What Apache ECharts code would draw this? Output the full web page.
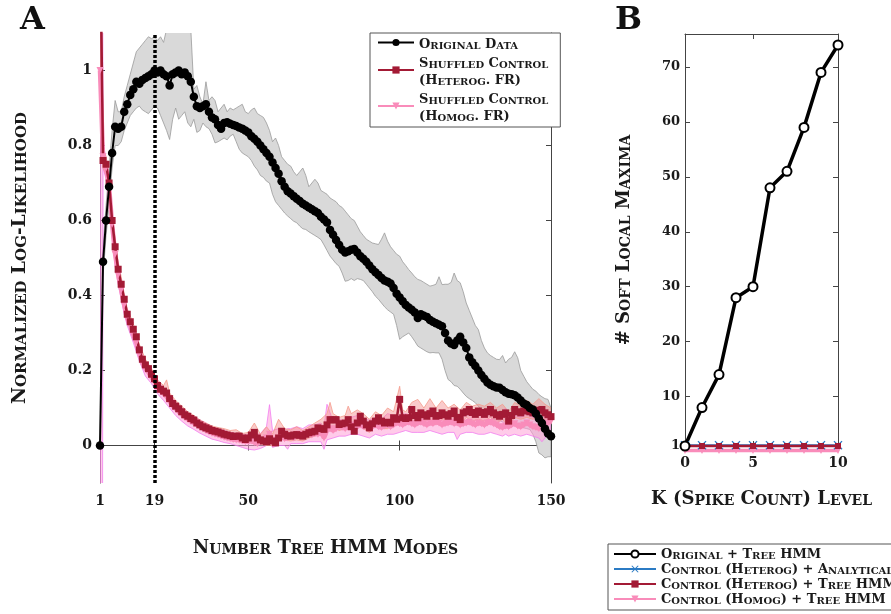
<!DOCTYPE html>
<html><head><meta charset="utf-8">
<script src="https://cdn.jsdelivr.net/npm/echarts@6/dist/echarts.min.js"></script>
<style>html,body{margin:0;padding:0;background:#fff}#c{width:891px;height:614px}</style>
</head><body><div id="c"></div>
<script>
// ---------- Panel A data ----------
const modeCounts = Array.from({length: 150}, (_, i) => i + 1);
const modeTickValues = [1, 19, 50, 100, 150];
const llTickValues = [0, 0.2, 0.4, 0.6, 0.8, 1];
const bestModeCount = 19;

const originalData = [
0.00,0.49,0.60,0.69,0.78,0.85,0.845,0.85,0.89,0.91,
0.935,0.95,0.97,0.965,0.975,0.98,0.985,0.99,1.00,0.995,
1.00,0.99,0.985,0.96,0.99,0.995,1.00,0.99,0.995,0.985,
0.97,0.93,0.905,0.90,0.905,0.91,0.89,0.875,0.87,0.855,
0.845,0.86,0.862,0.858,0.855,0.852,0.848,0.845,0.84,0.835,
0.825,0.818,0.81,0.80,0.79,0.78,0.77,0.755,0.74,0.725,
0.705,0.69,0.678,0.672,0.665,0.658,0.652,0.645,0.64,0.635,
0.63,0.625,0.62,0.61,0.603,0.595,0.575,0.562,0.548,0.535,
0.522,0.515,0.518,0.522,0.524,0.515,0.505,0.498,0.49,0.48,
0.47,0.462,0.455,0.447,0.44,0.437,0.432,0.42,0.405,0.395,
0.385,0.375,0.368,0.362,0.355,0.34,0.35,0.346,0.343,0.335,
0.33,0.326,0.322,0.318,0.30,0.28,0.272,0.268,0.28,0.29,
0.275,0.26,0.235,0.222,0.212,0.2,0.188,0.178,0.168,0.162,
0.158,0.155,0.154,0.148,0.142,0.138,0.137,0.134,0.128,0.12,
0.112,0.108,0.1,0.096,0.085,0.072,0.06,0.045,0.032,0.025];

const originalUpper = [
0.02,0.53,0.64,0.74,0.84,0.92,0.89,0.89,0.93,0.96,
0.99,1.02,1.05,1.06,1.07,1.08,1.09,1.085,1.09,1.08,
1.09,1.075,1.11,1.15,1.14,1.13,1.15,1.14,1.13,1.12,
1.11,0.95,0.96,0.93,0.91,0.97,0.92,0.93,0.92,0.89,
0.90,0.91,0.89,0.90,0.895,0.90,0.905,0.91,0.89,0.885,
0.895,0.90,0.885,0.88,0.875,0.86,0.84,0.81,0.82,0.80,
0.77,0.76,0.75,0.745,0.73,0.72,0.73,0.74,0.72,0.69,
0.70,0.71,0.70,0.68,0.675,0.67,0.66,0.655,0.65,0.64,
0.635,0.625,0.615,0.605,0.60,0.585,0.57,0.56,0.55,0.545,
0.54,0.538,0.536,0.55,0.567,0.545,0.53,0.52,0.51,0.505,
0.49,0.48,0.469,0.46,0.45,0.443,0.44,0.435,0.43,0.425,
0.427,0.43,0.45,0.429,0.43,0.43,0.435,0.46,0.44,0.434,
0.41,0.38,0.36,0.34,0.32,0.309,0.28,0.26,0.247,0.24,
0.235,0.23,0.229,0.24,0.22,0.23,0.235,0.25,0.234,0.2,
0.185,0.17,0.16,0.15,0.145,0.136,0.13,0.125,0.123,0.10];

const originalLower = [
-0.01,0.45,0.56,0.64,0.74,0.80,0.80,0.81,0.84,0.86,
0.88,0.89,0.90,0.905,0.895,0.89,0.885,0.895,0.905,0.90,
0.88,0.86,0.84,0.816,0.87,0.90,0.87,0.88,0.89,0.86,
0.85,0.87,0.835,0.84,0.86,0.85,0.845,0.83,0.807,0.81,
0.815,0.82,0.815,0.825,0.83,0.81,0.79,0.78,0.775,0.77,
0.76,0.745,0.735,0.72,0.715,0.705,0.70,0.67,0.65,0.64,
0.63,0.62,0.612,0.605,0.598,0.594,0.585,0.578,0.576,0.57,
0.565,0.56,0.555,0.549,0.535,0.52,0.505,0.495,0.485,0.478,
0.46,0.438,0.44,0.445,0.44,0.445,0.443,0.44,0.43,0.42,
0.41,0.398,0.39,0.38,0.37,0.362,0.356,0.35,0.32,0.283,
0.29,0.295,0.30,0.29,0.278,0.265,0.26,0.255,0.25,0.247,
0.248,0.247,0.247,0.23,0.2,0.176,0.17,0.16,0.158,0.15,
0.14,0.131,0.125,0.12,0.114,0.105,0.095,0.087,0.08,0.075,
0.07,0.069,0.066,0.063,0.061,0.06,0.058,0.055,0.051,0.049,
0.047,0.045,0.043,0.03,0.01,-0.02,-0.025,-0.033,-0.03,-0.03];

const heterogData = [
1.4,0.76,0.75,0.70,0.60,0.53,0.47,0.43,0.39,0.35,
0.33,0.31,0.29,0.255,0.23,0.215,0.205,0.19,0.178,0.16,
0.15,0.145,0.14,0.125,0.112,0.105,0.098,0.09,0.082,0.078,
0.072,0.068,0.06,0.055,0.05,0.047,0.044,0.04,0.038,0.036,
0.033,0.03,0.028,0.026,0.024,0.025,0.025,0.02,0.016,0.02,
0.028,0.035,0.02,0.015,0.012,0.01,0.018,0.012,0.007,0.02,
0.038,0.03,0.026,0.025,0.028,0.029,0.027,0.025,0.03,0.034,
0.036,0.038,0.047,0.045,0.043,0.055,0.069,0.068,0.069,0.056,
0.058,0.06,0.069,0.05,0.038,0.06,0.078,0.065,0.055,0.047,
0.058,0.065,0.074,0.065,0.06,0.062,0.06,0.074,0.07,0.123,
0.074,0.072,0.074,0.096,0.08,0.074,0.087,0.082,0.078,0.085,
0.092,0.078,0.08,0.087,0.082,0.078,0.085,0.092,0.075,0.069,
0.087,0.09,0.096,0.088,0.083,0.092,0.088,0.083,0.09,0.096,
0.087,0.082,0.078,0.083,0.087,0.065,0.08,0.096,0.09,0.087,
0.092,0.096,0.09,0.087,0.092,0.094,0.096,0.087,0.082,0.077];

const homogData = [
1.0,0.77,0.74,0.69,0.59,0.51,0.455,0.415,0.375,0.34,
0.32,0.295,0.275,0.245,0.22,0.205,0.195,0.182,0.172,0.155,
0.145,0.138,0.13,0.118,0.105,0.098,0.09,0.083,0.075,0.07,
0.064,0.06,0.055,0.05,0.045,0.04,0.036,0.033,0.03,0.028,
0.025,0.022,0.02,0.018,0.016,0.015,0.014,0.012,0.01,0.01,
0.012,0.008,0.005,0.01,0.015,0.02,0.03,0.015,0.01,0.02,
0.025,0.018,0.02,0.024,0.02,0.026,0.03,0.025,0.03,0.035,
0.028,0.032,0.03,0.035,0.02,0.04,0.045,0.04,0.045,0.05,
0.048,0.045,0.05,0.055,0.045,0.05,0.055,0.05,0.052,0.045,
0.05,0.055,0.05,0.048,0.052,0.055,0.05,0.055,0.06,0.058,
0.055,0.06,0.062,0.058,0.055,0.06,0.062,0.058,0.055,0.06,
0.058,0.062,0.06,0.055,0.058,0.06,0.062,0.058,0.06,0.055,
0.058,0.06,0.062,0.058,0.055,0.06,0.058,0.055,0.06,0.062,
0.058,0.055,0.05,0.048,0.052,0.05,0.055,0.058,0.052,0.05,
0.055,0.06,0.055,0.05,0.048,0.045,0.05,0.055,0.06,0.065];

const heterogBandX  = [1,2,3,4,5,6,7,8,9,10,12,14,16,18,20,22,23,24,26,28,30,32,34,36,38,40,42,44,46,48,50,52,54,56,58,60,62,64,66,68,70,72,74,76,77,78,80,82,83,84,86,88,90,92,94,96,98,100,101,102,104,106,108,110,112,114,116,118,120,122,124,126,128,130,132,134,136,138,140,142,144,146,148,150];
const heterogBandLo = [0.9,0.74,0.72,0.67,0.57,0.50,0.45,0.41,0.37,0.335,0.295,0.24,0.20,0.175,0.148,0.132,0.13,0.115,0.095,0.08,0.068,0.058,0.045,0.038,0.03,0.027,0.02,0.016,0.015,0.01,0.008,0.02,0.005,0.0,0.0,0.02,0.015,0.012,0.015,0.012,0.02,0.025,0.03,0.04,0.05,0.05,0.04,0.045,0.05,0.04,0.055,0.045,0.035,0.05,0.045,0.045,0.055,0.06,0.058,0.06,0.07,0.06,0.065,0.07,0.06,0.07,0.06,0.07,0.055,0.075,0.065,0.07,0.065,0.075,0.06,0.07,0.05,0.075,0.07,0.075,0.07,0.075,0.07,0.06];
const heterogBandHi = [1.6,0.79,0.77,0.72,0.62,0.55,0.49,0.45,0.405,0.365,0.325,0.27,0.23,0.205,0.175,0.16,0.175,0.14,0.12,0.105,0.09,0.08,0.068,0.06,0.052,0.048,0.045,0.04,0.042,0.032,0.035,0.06,0.03,0.05,0.03,0.07,0.045,0.042,0.05,0.04,0.05,0.06,0.07,0.085,0.115,0.085,0.075,0.08,0.105,0.085,0.095,0.085,0.07,0.09,0.08,0.1,0.09,0.158,0.095,0.09,0.115,0.123,0.1,0.125,0.1,0.12,0.1,0.11,0.095,0.115,0.105,0.11,0.105,0.115,0.1,0.11,0.09,0.115,0.105,0.12,0.11,0.125,0.11,0.1];

const homogBandX  = [1,2,3,4,5,6,7,8,9,10,12,14,16,18,20,22,24,26,28,30,32,34,36,38,40,42,44,46,48,50,52,54,56,57,58,60,62,63,64,66,68,70,72,74,75,76,78,80,82,84,86,88,90,92,94,96,98,100,102,104,106,108,110,112,114,116,118,119,120,122,124,126,128,130,132,134,135,136,138,140,142,144,146,147,148,150];
const homogBandLo = [-5,0.74,0.71,0.66,0.56,0.48,0.43,0.39,0.35,0.32,0.275,0.225,0.185,0.165,0.138,0.12,0.1,0.08,0.065,0.052,0.043,0.033,0.025,0.017,0.013,0.008,0.005,0.0,-0.005,-0.01,-0.012,-0.008,0.0,0.01,-0.005,0.0,0.0,-0.01,0.005,0.005,0.005,0.01,0.01,0.01,-0.01,0.015,0.02,0.025,0.025,0.03,0.03,0.025,0.02,0.03,0.025,0.03,0.03,0.035,0.04,0.035,0.035,0.035,0.04,0.035,0.03,0.035,0.035,0.016,0.03,0.035,0.035,0.03,0.03,0.035,0.03,0.025,0.03,0.025,0.03,0.025,0.03,0.025,0.02,0.01,0.02,0.04];
const homogBandHi = [5,0.80,0.77,0.72,0.62,0.54,0.48,0.44,0.40,0.36,0.315,0.265,0.225,0.2,0.172,0.155,0.135,0.115,0.1,0.088,0.078,0.068,0.06,0.05,0.045,0.04,0.035,0.032,0.03,0.03,0.028,0.032,0.05,0.109,0.04,0.045,0.04,0.045,0.045,0.05,0.045,0.055,0.055,0.06,0.05,0.11,0.065,0.07,0.065,0.075,0.08,0.07,0.068,0.075,0.07,0.085,0.08,0.08,0.085,0.08,0.085,0.08,0.1,0.085,0.08,0.085,0.08,0.075,0.08,0.085,0.08,0.085,0.08,0.085,0.08,0.09,0.1,0.075,0.08,0.075,0.085,0.075,0.07,0.065,0.08,0.09];

// ---------- Panel B data ----------
const kLevels = [1,2,3,4,5,6,7,8,9,10];
const kTickPos = [1,5,10];
const kTickLabels = ['0','5','10'];
const maximaTicks = [1,10,20,30,40,50,60,70];
const maximaOriginal   = [1,8,14,28,30,48,51,59,69,74];
const maximaAnalytical = [1.15,1.15,1.15,1.15,1.15,1.15,1.15,1.15,1.15,1.15];
const maximaHeterog    = [1,1,1,1,1,1,1,1,1,1];
const maximaHomog      = [0.2,0.2,0.2,0.2,0.2,0.2,0.2,0.2,0.2,0.2];

// ---------- helpers ----------
const SERIF = '"DejaVu Serif", serif';
const TXT = '#1a1a1a';
function sc(str) {
  let out = '', cur = '', type = null;
  const flush = () => { if (cur) out += '{' + type + '|' + cur + '}'; cur = ''; };
  for (const ch of str) {
    if (ch === '\n') { flush(); type = null; out += '\n'; continue; }
    let t = 'b', c = ch;
    if (/[a-z]/.test(ch)) { t = 's'; c = ch.toUpperCase(); }
    if (t !== type) { flush(); type = t; }
    cur += c;
  }
  flush();
  return out;
}
function richSC(big, small, lh) {
  const b = {fontFamily: SERIF, fontWeight: 'bold', fontSize: big, color: TXT, verticalAlign: 'bottom'};
  const s = {fontFamily: SERIF, fontWeight: 'bold', fontSize: small, color: TXT, verticalAlign: 'bottom'};
  if (lh) { b.lineHeight = lh; s.lineHeight = lh - 0.7 * (big - small); }
  return {b, s};
}
function band(name, xs, lo, hi, fill, edge) {
  return {
    type: 'custom', name, xAxisIndex: 0, yAxisIndex: 0, clip: true, silent: true,
    data: xs.map((x, i) => [x, lo[i], hi[i]]),
    encode: {x: 0, y: [1, 2]},
    renderItem(params, api) {
      if (params.dataIndex !== 0) return null;
      const top = xs.map((x, i) => api.coord([x, hi[i]]));
      const bot = xs.map((x, i) => api.coord([x, lo[i]])).reverse();
      return {type: 'polygon', shape: {points: top.concat(bot)},
              style: {fill, stroke: edge, lineWidth: 0.8}};
    }
  };
}
const pair = (xs, ys) => xs.map((x, i) => [x, ys[i]]);

const labelStyle = {fontFamily: SERIF, fontWeight: 'bold', fontSize: 14, color: TXT};
const axisLineStyle = {lineStyle: {color: '#444', width: 1}};
const tickIn = (vals) => ({show: true, inside: true, length: 5, lineStyle: {color: '#444'}, customValues: vals});

const chart = echarts.init(document.getElementById('c'), null, {renderer: 'canvas'});
chart.setOption({
  animation: false,
  backgroundColor: '#fff',
  graphic: [
    {type: 'text', left: 20, top: 5, style: {text: 'A', font: 'bold 32px ' + SERIF, fill: '#111'}},
    {type: 'text', left: 615, top: 5, style: {text: 'B', font: 'bold 32px ' + SERIF, fill: '#111'}}
  ],
  grid: [
    {left: 100, right: 340, top: 33, bottom: 131},
    {left: 685, right: 53, top: 34, bottom: 168}
  ],
  xAxis: [
    {gridIndex: 0, type: 'value', min: 1, max: 150, position: 'bottom',
     name: sc('Number Tree HMM Modes'), nameLocation: 'middle', nameGap: 56,
     nameTextStyle: {rich: richSC(18, 14)},
     axisLine: axisLineStyle, axisTick: tickIn(modeTickValues), splitLine: {show: false},
     axisLabel: Object.assign({customValues: modeTickValues, margin: 11}, labelStyle)},
    {gridIndex: 0, type: 'value', min: 1, max: 150, position: 'top',
     axisLine: axisLineStyle, axisTick: tickIn(modeTickValues), splitLine: {show: false},
     axisLabel: {show: false}},
    {gridIndex: 1, type: 'value', min: 1, max: 10, position: 'bottom',
     name: sc('K (Spike Count) Level'), nameLocation: 'middle', nameGap: 44,
     nameTextStyle: {rich: richSC(18, 14)},
     axisLine: axisLineStyle, axisTick: tickIn(kTickPos), splitLine: {show: false},
     axisLabel: Object.assign({customValues: kTickPos, margin: 10,
       formatter: v => kTickLabels[kTickPos.indexOf(v)]}, labelStyle)},
    {gridIndex: 1, type: 'value', min: 1, max: 10, position: 'top',
     axisLine: axisLineStyle, axisTick: tickIn(kTickPos), splitLine: {show: false},
     axisLabel: {show: false}}
  ],
  yAxis: [
    {gridIndex: 0, type: 'value', min: -0.1, max: 1.1, position: 'left',
     name: sc('Normalized Log-Likelihood'), nameLocation: 'middle', nameGap: 70, nameRotate: 90,
     nameTextStyle: {rich: richSC(18.5, 15)},
     axisLine: axisLineStyle, axisTick: tickIn(llTickValues), splitLine: {show: false},
     axisLabel: Object.assign({customValues: llTickValues, margin: 8}, labelStyle)},
    {gridIndex: 0, type: 'value', min: -0.1, max: 1.1, position: 'right',
     axisLine: axisLineStyle, axisTick: tickIn(llTickValues), splitLine: {show: false},
     axisLabel: {show: false}},
    {gridIndex: 1, type: 'value', min: 1, max: 76, position: 'left',
     name: sc('# Soft Local Maxima'), nameLocation: 'middle', nameGap: 52, nameRotate: 90,
     nameTextStyle: {rich: richSC(18, 14)},
     axisLine: axisLineStyle, axisTick: tickIn(maximaTicks), splitLine: {show: false},
     axisLabel: Object.assign({customValues: maximaTicks, margin: 5}, labelStyle, {fontSize: 13})},
    {gridIndex: 1, type: 'value', min: 1, max: 76, position: 'right',
     axisLine: axisLineStyle, axisTick: tickIn(maximaTicks), splitLine: {show: false},
     axisLabel: {show: false}}
  ],
  legend: [
    {data: ['Original Data', 'Shuffled Control\n(Heterog. FR)', 'Shuffled Control\n(Homog. FR)'],
     orient: 'vertical', left: 370, top: 33, padding: [5, 12, 4, 7], itemGap: 6,
     itemWidth: 36, itemHeight: 9, backgroundColor: '#fff', borderColor: '#555', borderWidth: 1,
     formatter: n => sc(n), textStyle: {rich: richSC(13, 10, 17)}},
    {data: ['Original + Tree HMM', 'Control (Heterog) + Analytical', 'Control (Heterog) + Tree HMM', 'Control (Homog) + Tree HMM'],
     orient: 'vertical', left: 608, top: 544, padding: [4, 60, 4, 5], itemGap: 2,
     itemWidth: 42, itemHeight: 9, backgroundColor: '#fff', borderColor: '#555', borderWidth: 1,
     formatter: n => sc(n), textStyle: {rich: richSC(13, 10, 14)}}
  ],
  series: [
    band('origBand', modeCounts, originalLower, originalUpper, '#d9d9d9', '#9a9a9a'),
    band('homogBand', homogBandX, homogBandLo, homogBandHi, 'rgba(255,160,215,0.55)', '#f27ef0'),
    band('heterogBand', heterogBandX, heterogBandLo, heterogBandHi, 'rgba(245,140,140,0.45)', '#f59a8a'),
    {name: 'Shuffled Control\n(Homog. FR)', type: 'line', xAxisIndex: 0, yAxisIndex: 0,
     data: pair(modeCounts, homogData), symbol: 'triangle', symbolRotate: 180, symbolSize: 7,
     lineStyle: {color: '#f98cba', width: 4.5}, itemStyle: {color: '#f98cba'}},
    {name: 'Shuffled Control\n(Heterog. FR)', type: 'line', xAxisIndex: 0, yAxisIndex: 0,
     data: pair(modeCounts, heterogData), symbol: 'rect', symbolSize: 7,
     lineStyle: {color: '#a31a35', width: 2.5}, itemStyle: {color: '#a31a35'}},
    {name: 'Original Data', type: 'line', xAxisIndex: 0, yAxisIndex: 0,
     data: pair(modeCounts, originalData), symbol: 'circle', symbolSize: 8.5,
     lineStyle: {color: '#000', width: 2}, itemStyle: {color: '#000'},
     markLine: {silent: true, symbol: ['none', 'none'], label: {show: false},
       lineStyle: {color: '#000', width: 3.5, type: [3, 2]},
       data: [{xAxis: bestModeCount}]}},
    // Panel B
    {name: 'Control (Heterog) + Analytical', type: 'line', xAxisIndex: 2, yAxisIndex: 2, clip: false,
     data: pair(kLevels, maximaAnalytical), symbol: 'path://M0,1L1,0L5,4L9,0L10,1L6,5L10,9L9,10L5,6L1,10L0,9L4,5Z',
     symbolSize: 9, lineStyle: {color: '#2b7bc4', width: 2}, itemStyle: {color: '#2b7bc4'}},
    {name: 'Control (Homog) + Tree HMM', type: 'line', xAxisIndex: 2, yAxisIndex: 2, clip: false,
     data: pair(kLevels, maximaHomog), symbol: 'triangle', symbolRotate: 180, symbolSize: 7,
     lineStyle: {color: '#f98cba', width: 3.5}, itemStyle: {color: '#f98cba'}},
    {name: 'Control (Heterog) + Tree HMM', type: 'line', xAxisIndex: 2, yAxisIndex: 2, clip: false,
     data: pair(kLevels, maximaHeterog), symbol: 'rect', symbolSize: 6,
     lineStyle: {color: '#a31a35', width: 2.5}, itemStyle: {color: '#a31a35'}},
    {name: 'Original + Tree HMM', type: 'line', xAxisIndex: 2, yAxisIndex: 2, clip: false,
     data: pair(kLevels, maximaOriginal), symbol: 'emptyCircle', symbolSize: 9,
     lineStyle: {color: '#000', width: 3.5}, itemStyle: {color: '#000', borderColor: '#000', borderWidth: 3}}
  ]
});
</script></body></html>
